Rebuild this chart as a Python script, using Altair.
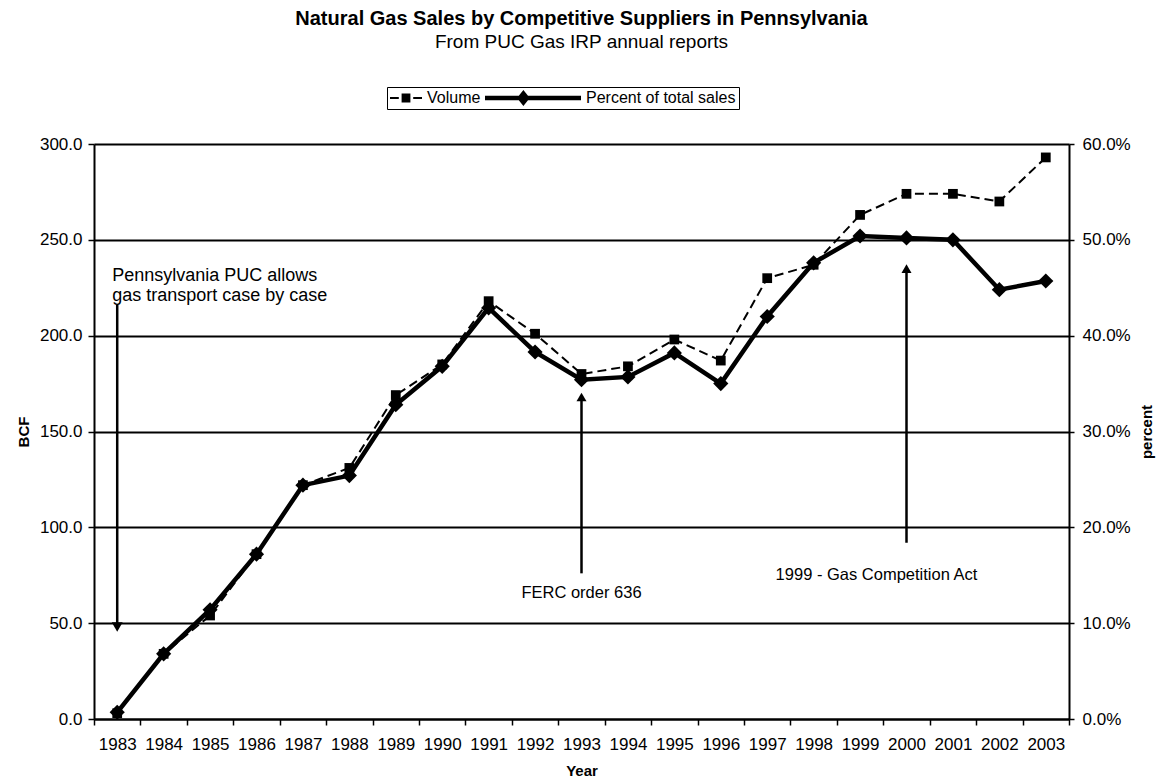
import altair as alt
import pandas as pd

# ---- data ----
years = [str(y) for y in range(1983, 2004)]
volume_bcf = [3, 34, 54, 86, 122, 131, 169, 185, 218, 201, 180, 184, 198, 187, 230, 237, 263, 274, 274, 270, 293]
percent_of_sales = [0.7, 6.8, 11.4, 17.2, 24.4, 25.4, 32.8, 36.8, 42.9, 38.3, 35.4, 35.7, 38.2, 35.0, 42.0, 47.6, 50.4, 50.2, 50.0, 44.8, 45.7]

left_ticks = [0, 50, 100, 150, 200, 250, 300]
right_ticks = [0, 0.1, 0.2, 0.3, 0.4, 0.5, 0.6]

# annotations (anchored in data space)
note_years = ["1983", "1993", "2000"]
note_text = [["Pennsylvania PUC allows", "gas transport case by case"], ["FERC order 636"], ["1999 - Gas Competition Act"]]
note_bcf = [231, 66, 75]
note_align = ["left", "center", "center"]
note_dx = [-5, 0, -30]
note_size = [18, 16.5, 16.5]

arrow_years = ["1983", "1993", "2000"]
arrow_from = [216, 76, 92]
arrow_to = [48, 168, 235]
arrow_dir = ["down", "up", "up"]

series_names = ["Volume", "Percent of total sales"]

FONT = "Liberation Sans"

df = pd.DataFrame({"Year": years, "BCF": volume_bcf, "Pct": [p / 100 for p in percent_of_sales]})
notes = pd.DataFrame({"Year": note_years, "BCF": note_bcf, "Text": note_text})
arrows = pd.DataFrame({"Year": arrow_years, "BCF": arrow_from, "BCF2": arrow_to, "Dir": arrow_dir})
legend_df = pd.DataFrame({"Year": ["1983", "1983"], "BCF": [3, 3], "Series": series_names})

x_enc = alt.X(
    "Year:O",
    scale=alt.Scale(type="band", paddingInner=0, paddingOuter=0),
    axis=alt.Axis(
        title="Year", labelAngle=0, tickBand="extent", labelFont=FONT, labelFontSize=17,
        labelColor="black", labelPadding=11, tickColor="black", tickSize=6, tickWidth=1.5,
        domainColor="black", domainWidth=2, titleFont=FONT, titleFontSize=15,
        titleFontWeight="bold", titleColor="black", titlePadding=11,
    ),
)

left_axis = alt.Axis(
    title="BCF", values=left_ticks, format=".1f", grid=True, gridColor="black", gridWidth=2,
    labelFont=FONT, labelFontSize=17, labelColor="black", labelPadding=6, tickColor="black",
    tickSize=6, tickWidth=1.5, domainColor="black", domainWidth=2, titleFont=FONT,
    titleFontSize=15, titleFontWeight="bold", titleColor="black", titlePadding=8,
)
y_left = alt.Y("BCF:Q", scale=alt.Scale(domain=[0, 300], nice=False, zero=True), axis=left_axis)

right_axis = alt.Axis(
    title="percent", orient="right", values=right_ticks, format=".1%", grid=False,
    labelFont=FONT, labelFontSize=17, labelColor="black", labelPadding=8, tickColor="black",
    tickSize=5, tickWidth=1.5, domainColor="black", domainWidth=2, titleFont=FONT,
    titleFontSize=15, titleFontWeight="bold", titleColor="black", titlePadding=24, titleAngle=270,
)
y_right = alt.Y("Pct:Q", scale=alt.Scale(domain=[0, 0.6], nice=False, zero=True), axis=right_axis)

base = alt.Chart(df)

vol_line = base.mark_line(color="black", strokeWidth=2, strokeDash=[9, 5]).encode(x=x_enc, y=y_left)
vol_pts = base.mark_point(shape="square", filled=True, color="black", size=95, opacity=1).encode(x=x_enc, y=y_left)

pct_line = base.mark_line(color="black", strokeWidth=4.5).encode(x=x_enc, y=y_right)
pct_pts = base.mark_point(shape="diamond", filled=True, color="black", size=230, opacity=1).encode(x=x_enc, y=y_right)

arrow_rules = alt.Chart(arrows).mark_rule(color="black", strokeWidth=2.5).encode(x=x_enc, y=y_left, y2="BCF2:Q")
head_down = alt.Chart(arrows).transform_filter(alt.datum.Dir == "down").mark_point(
    shape="triangle-down", filled=True, color="black", size=120, opacity=1
).encode(x=x_enc, y=alt.Y("BCF2:Q"))
head_up = alt.Chart(arrows).transform_filter(alt.datum.Dir == "up").mark_point(
    shape="triangle-up", filled=True, color="black", size=100, opacity=1
).encode(x=x_enc, y=alt.Y("BCF2:Q"))

note_layers = []
for i in range(len(note_years)):
    note_layers.append(
        alt.Chart(notes.iloc[[i]]).mark_text(
            font=FONT, fontSize=note_size[i], color="black", align=note_align[i], baseline="middle",
            dx=note_dx[i], lineHeight=20,
        ).encode(x=x_enc, y=y_left, text="Text")
    )

# legend keys as custom paths (unit = 8 px); both keys end at x=+1
vol_symbol = ("M-3,-0.13H-1.9V0.13H-3Z "
              "M-1.55,-0.55H-0.45V0.55H-1.55Z "
              "M-0.1,-0.13H1V0.13H-0.1Z")
pct_symbol = ("M-11,-0.28H1V0.28H-11Z "
              "M-6.2,-1L-5.4,0L-6.2,1L-7,0Z")

legend_layer = alt.Chart(legend_df).mark_point(filled=True, color="black", size=0).encode(
    x=x_enc,
    y=y_left,
    shape=alt.Shape(
        "Series:N",
        scale=alt.Scale(domain=series_names, range=[vol_symbol, pct_symbol]),
        legend=alt.Legend(
            title=None, orient="none", legendX=293, legendY=-57, direction="horizontal",
            strokeColor="black", padding=3, symbolSize=256, symbolOpacity=1,
            symbolFillColor="black", symbolStrokeWidth=0, labelFont=FONT, labelFontSize=16,
            labelColor="black", labelOffset=5, columnPadding=4, symbolOffset=16,
        ),
    ),
)

left = alt.layer(vol_line, arrow_rules, head_down, head_up, *note_layers, legend_layer, vol_pts)
right = alt.layer(pct_line, pct_pts)

chart = (
    alt.layer(left, right)
    .resolve_scale(y="independent")
    .properties(
        width=975,
        height=575,
        autosize=alt.AutoSizeParams(type="none"),
        padding={"left": 94, "top": 144, "right": 90, "bottom": 64},
        title=alt.Title(
            text="Natural Gas Sales by Competitive Suppliers in Pennsylvania",
            subtitle="From PUC Gas IRP annual reports",
            font=FONT, fontSize=20, fontWeight="bold", color="black",
            subtitleFont=FONT, subtitleFontSize=19, subtitleColor="black",
            subtitlePadding=4, anchor="middle", offset=35,
        ),
    )
    .configure_view(stroke="black", strokeWidth=2)
    .configure(background="white")
)

chart.save("out.html", embed_options={"renderer": "svg", "actions": False})
